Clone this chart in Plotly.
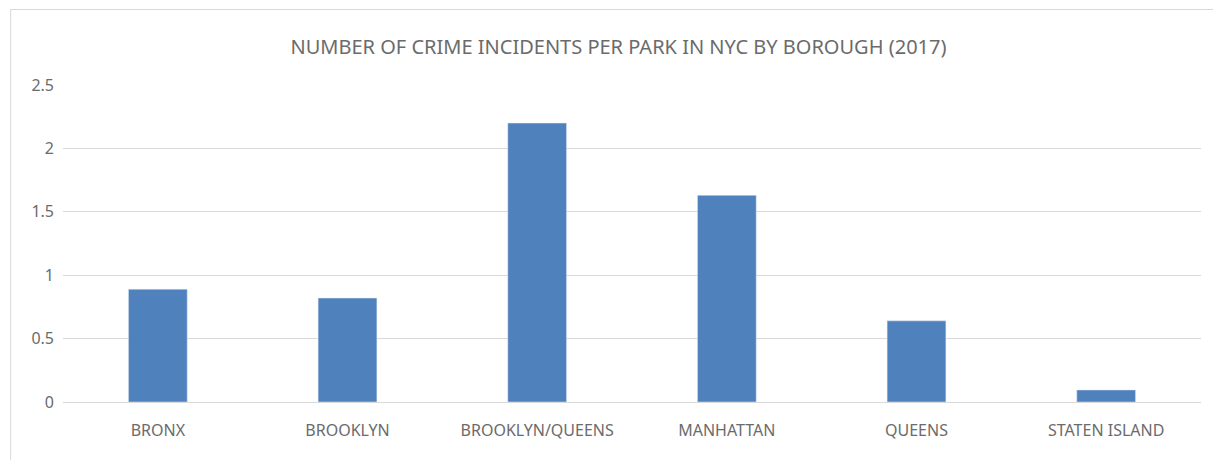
import plotly.graph_objects as go

boroughs = ["BRONX", "BROOKLYN", "BROOKLYN/QUEENS", "MANHATTAN", "QUEENS", "STATEN ISLAND"]
incidents_per_park = [0.89, 0.82, 2.2, 1.63, 0.64, 0.095]

fig = go.Figure(go.Bar(
    x=boroughs,
    y=incidents_per_park,
    marker=dict(color="#4f81bd"),
))

fig.update_layout(
    title=dict(text="NUMBER OF CRIME INCIDENTS PER PARK IN NYC BY BOROUGH (2017)",
               x=0.5, y=0.915, xanchor="center", yanchor="middle",
               font=dict(size=20, color="#6b6b6b", family="Noto Sans")),
    width=1221, height=460,
    margin=dict(l=55, r=28, t=77, b=66),
    plot_bgcolor="white",
    paper_bgcolor="white",
    bargap=0.69,
    showlegend=False,
    font=dict(family="Noto Sans", color="#6b6b6b", size=16),
    shapes=[dict(type="rect", xref="paper", yref="paper", x0=-0.046, x1=1.022,
                 y0=-0.203, y1=1.238, line=dict(color="#d9d9d9", width=1))],
)
fig.update_yaxes(range=[0, 2.5], dtick=0.5, gridcolor="#d9d9d9", zeroline=False,
                 tickfont=dict(size=16, color="#6b6b6b"), ticklabelstandoff=8)
fig.update_xaxes(showline=True, linecolor="#d9d9d9", ticklabelstandoff=14,
                 tickfont=dict(size=16, color="#6b6b6b"))

fig.write_html("out.html")
